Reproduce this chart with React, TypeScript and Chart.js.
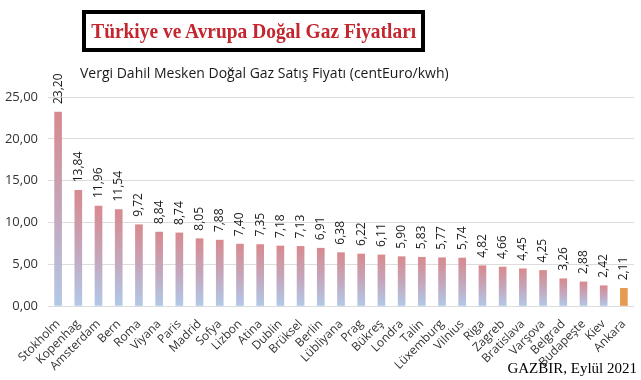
import React, { useEffect, useRef } from "react";
import { Chart, registerables } from "chart.js";

Chart.register(...registerables);

const categories = [
  "Stokholm", "Kopenhag", "Amsterdam", "Bern", "Roma", "Viyana", "Paris", "Madrid",
  "Sofya", "Lizbon", "Atina", "Dublin", "Brüksel", "Berlin", "Lübliyana", "Prag",
  "Bükreş", "Londra", "Talin", "Lüxemburg", "Vilnius", "Riga", "Zagreb", "Bratislava",
  "Varşova", "Belgrad", "Budapeşte", "Kiev", "Ankara",
];
const values = [
  23.2, 13.84, 11.96, 11.54, 9.72, 8.84, 8.74, 8.05, 7.88, 7.4, 7.35, 7.18, 7.13, 6.91,
  6.38, 6.22, 6.11, 5.9, 5.83, 5.77, 5.74, 4.82, 4.66, 4.45, 4.25, 3.26, 2.88, 2.42, 2.11,
];
const yMax = 25;
const yStep = 5;
const highlightIndex = categories.indexOf("Ankara");

const titleText = "Türkiye ve Avrupa Doğal Gaz Fiyatları";
const subtitleText = "Vergi Dahil Mesken Doğal Gaz Satış Fiyatı (centEuro/kwh)";
const footerText = "GAZBIR, Eylül 2021";

const fmt = (v: number) => v.toFixed(2).replace(".", ",");

const labelPlugin = {
  id: "barLabels",
  afterDatasetsDraw(chart: any) {
    const ctx = chart.ctx;
    const meta = chart.getDatasetMeta(0);
    ctx.save();
    ctx.font = "500 12px 'Open Sans', sans-serif";
    ctx.fillStyle = "#1a1a1a";
    ctx.textAlign = "left";
    ctx.textBaseline = "middle";
    meta.data.forEach((bar: any, i: number) => {
      ctx.save();
      ctx.translate(bar.x, bar.y - 8);
      ctx.rotate(-Math.PI / 2);
      ctx.fillText(fmt(values[i]), 0, 0);
      ctx.restore();
    });
    ctx.restore();
  },
};

export default function App() {
  const ref = useRef<HTMLCanvasElement | null>(null);

  useEffect(() => {
    if (!ref.current) return;
    const chart = new Chart(ref.current, {
      type: "bar",
      data: {
        labels: categories,
        datasets: [
          {
            data: values,
            barThickness: 7,
            backgroundColor: (c: any) => {
              const ch = c.chart;
              if (c.dataIndex === highlightIndex) return "#e59a52";
              if (!ch.chartArea || c.type !== "data") return "#c8a6bb";
              const y0 = ch.scales.y.getPixelForValue(0);
              const y1 = ch.scales.y.getPixelForValue(values[c.dataIndex]);
              const g = ch.ctx.createLinearGradient(0, y1, 0, y0);
              g.addColorStop(0, "#d88a8e");
              g.addColorStop(0.5, "#c5a5ba");
              g.addColorStop(1, "#b1c9e8");
              return g;
            },
          },
        ],
      },
      options: {
        responsive: false,
        animation: false,
        layout: { padding: { left: 0, top: 97, right: 7, bottom: 0 } },
        plugins: {
          legend: { display: false },
          tooltip: { enabled: false },
          title: { display: false },
        },
        scales: {
          x: {
            grid: { display: false },
            border: { display: false },
            ticks: {
              autoSkip: false,
              maxRotation: 45,
              minRotation: 45,
              padding: 3,
              color: "#333",
              font: { family: "'Open Sans', sans-serif", size: 12 },
            },
            afterFit: (s: any) => {
              s.height = 74;
            },
          },
          y: {
            min: 0,
            max: yMax,
            grid: { color: "#dcdcdc", lineWidth: 1, drawTicks: false },
            border: { display: false },
            ticks: {
              stepSize: yStep,
              padding: 10,
              color: "#333",
              font: { family: "'Open Sans', sans-serif", size: 13 },
              callback: (v: any) => fmt(Number(v)),
            },
            afterFit: (s: any) => {
              s.width = 48;
            },
          },
        },
      },
      plugins: [labelPlugin],
    });
    return () => chart.destroy();
  }, []);

  return (
    <div
      style={{
        position: "fixed",
        left: 0,
        top: 0,
        width: 641,
        height: 380,
        background: "#fff",
        overflow: "hidden",
      }}
    >
      <canvas ref={ref} width={641} height={380} style={{ position: "absolute", left: 0, top: 0 }} />
      <div
        style={{
          position: "absolute",
          left: 82,
          top: 10,
          width: 343,
          height: 42,
          boxSizing: "border-box",
          border: "4px solid #000",
          display: "flex",
          alignItems: "center",
          justifyContent: "center",
          overflow: "visible",
        }}
      >
        <span
          style={{
            display: "inline-block",
            fontFamily: "'Liberation Serif', 'Times New Roman', serif",
            fontWeight: "bold",
            fontSize: 21,
            color: "#c3262e",
            whiteSpace: "nowrap",
            transform: "scaleX(0.925)",
            transformOrigin: "center",
          }}
        >
          {titleText}
        </span>
      </div>
      <div
        style={{
          position: "absolute",
          left: 80,
          top: 63,
          fontFamily: "'Open Sans', sans-serif",
          fontWeight: 500,
          fontSize: 14,
          color: "#1a1a1a",
          whiteSpace: "nowrap",
        }}
      >
        {subtitleText}
      </div>
      <div
        style={{
          position: "absolute",
          right: 4,
          top: 360,
          fontFamily: "'Liberation Serif', 'Times New Roman', serif",
          fontSize: 15,
          color: "#000",
          whiteSpace: "nowrap",
        }}
      >
        {footerText}
      </div>
    </div>
  );
}
